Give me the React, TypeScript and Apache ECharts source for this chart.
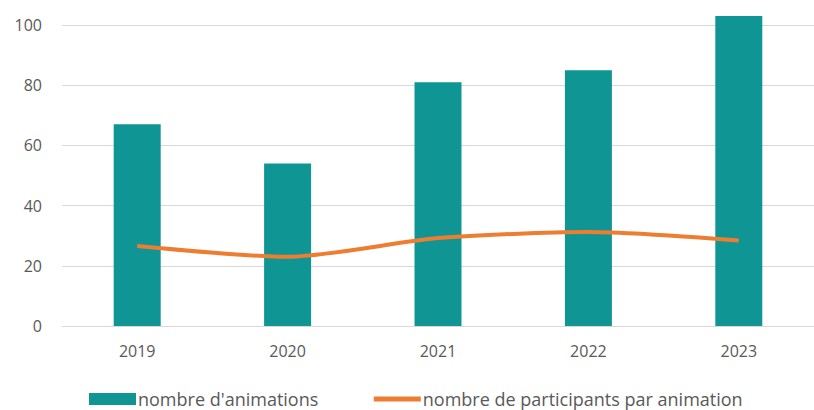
import React, { useEffect, useRef } from "react";
import * as echarts from "echarts";

const years = ["2019", "2020", "2021", "2022", "2023"];
const animations = [67, 54, 81, 85, 103];
const participants = [26.6, 23.0, 29.2, 31.2, 28.4];
const barName = "nombre d'animations";
const lineName = "nombre de participants par animation";

export default function App() {
  const ref = useRef<HTMLDivElement>(null);
  useEffect(() => {
    if (!ref.current) return;
    const chart = echarts.init(ref.current, null, { renderer: "svg" });
    const font = "'Open Sans', sans-serif";
    chart.setOption({
      animation: false,
      backgroundColor: "#ffffff",
      grid: { left: 62, right: -4, top: 25, bottom: 84, containLabel: false },
      legend: {
        left: 84,
        top: 385,
        itemWidth: 47,
        itemHeight: 12,
        itemGap: 53,
        textStyle: { color: "#595959", fontSize: 18, fontFamily: font, padding: [0, 0, 0, -3] },
        data: [
          { name: barName, icon: "rect" },
          { name: lineName, itemStyle: { opacity: 0 }, lineStyle: { width: 5, color: "#ED7D31" } },
        ],
      },
      xAxis: {
        type: "category",
        data: years,
        axisLine: { lineStyle: { color: "#d9d9d9", width: 1 } },
        axisTick: { show: false },
        axisLabel: { color: "#595959", fontSize: 16, fontFamily: font, margin: 17 },
      },
      yAxis: {
        type: "value",
        min: 0,
        max: 100,
        interval: 20,
        axisLine: { show: false },
        axisTick: { show: false },
        splitLine: { lineStyle: { color: "#d9d9d9", width: 1 } },
        axisLabel: { color: "#595959", fontSize: 16, fontFamily: font, margin: 20 },
      },
      series: [
        {
          name: barName,
          type: "bar",
          data: animations,
          barWidth: 47,
          clip: false,
          itemStyle: { color: "#109595" },
        },
        {
          name: lineName,
          type: "line",
          data: participants,
          smooth: 0.25,
          symbol: "none",
          clip: false,
          lineStyle: { color: "#ED7D31", width: 4 },
          itemStyle: { color: "#ED7D31" },
        },
      ],
    });
    return () => chart.dispose();
  }, []);
  return <div ref={ref} style={{ width: 814, height: 410, position: "absolute", left: 0, top: 0 }} />;
}
